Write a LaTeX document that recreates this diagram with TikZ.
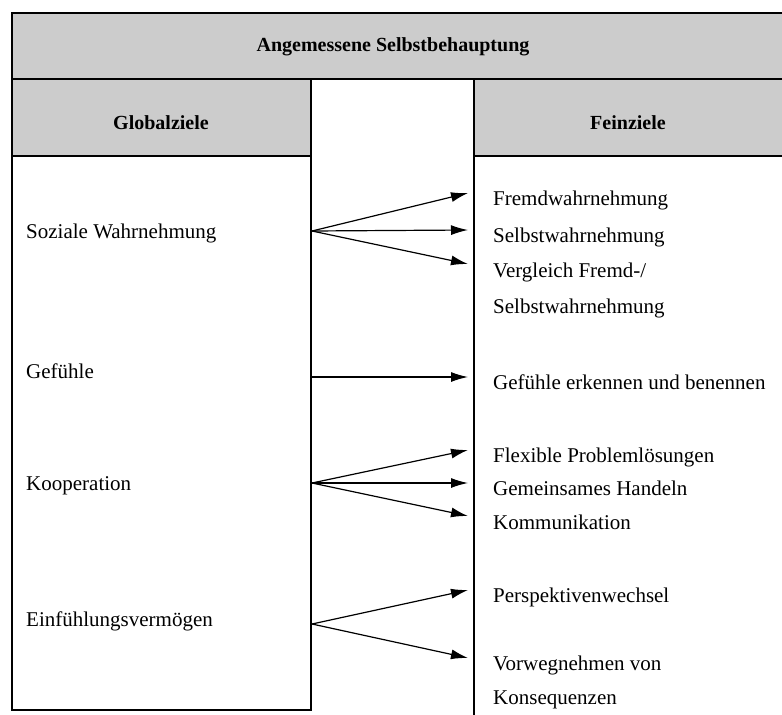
\documentclass[tikz,border=0pt]{standalone}
\usepackage{fontspec}
\setmainfont{Liberation Serif}
\usetikzlibrary{arrows.meta}

\begin{document}
\begin{tikzpicture}[x=1pt,y=-1pt,
        kopf/.style={fill=black!20},
        rand/.style={line width=1.4pt},
        ziel/.style={anchor=base west,inner sep=0pt,font=\fontsize{21}{25}\selectfont},
        titel/.style={font=\bfseries\fontsize{20}{24}\selectfont},
        pfeil/.style={-{Latex[length=17pt,width=10pt]},line width=1.2pt}]
        \useasboundingbox (0,0) rectangle (782,715);
        % Kopfzeilen
        \fill[kopf] (12,13) rectangle (782,79);
        \fill[kopf] (12,79) rectangle (311,156);
        \fill[kopf] (474,79) rectangle (782,156);
        \draw[rand] (782,13) -- (12,13) -- (12,710) -- (311,710) -- (311,79);
        \draw[rand] (12,79) -- (782,79);
        \draw[rand] (12,156) -- (311,156);
        \draw[rand] (474,79) -- (474,715);
        \draw[rand] (474,156) -- (782,156);
        \node[titel] (oben) at (393,47) {Angemessene Selbstbehauptung};
        \node[titel] (global) at (161,123) {Globalziele};
        \node[titel] (fein) at (628,123) {Feinziele};
        % Globalziele
        \node[ziel] (sozial) at (26,238) {Soziale Wahrnehmung};
        \node[ziel] (gefuehle) at (26,378) {Gefühle};
        \node[ziel] (koop) at (26,490) {Kooperation};
        \node[ziel] (einf) at (26,626) {Einfühlungsvermögen};
        \coordinate (s1) at (312,231);
        \coordinate (s2) at (312,377);
        \coordinate (s3) at (312,483);
        \coordinate (s4) at (312,624);
        % Feinziele
        \node[ziel] (fremd) at (493,205) {Fremdwahrnehmung};
        \node[ziel] (selbst) at (493,242) {Selbstwahrnehmung};
        \node[ziel] (vergl) at (493,277) {Vergleich Fremd-/};
        \node[ziel] (vergl2) at (493,313) {Selbstwahrnehmung};
        \node[ziel] (erkennen) at (493,389) {Gefühle erkennen und benennen};
        \node[ziel] (flex) at (493,462) {Flexible Problemlösungen};
        \node[ziel] (handeln) at (493,495) {Gemeinsames Handeln};
        \node[ziel] (komm) at (493,529) {Kommunikation};
        \node[ziel] (persp) at (493,602) {Perspektivenwechsel};
        \node[ziel] (vorweg) at (493,670) {Vorwegnehmen von};
        \node[ziel] (konseq) at (493,704) {Konsequenzen};
        \coordinate (spitze) at (468,0);
        % Pfeile
        \draw[pfeil] (s1) -- ([yshift=12pt]fremd.base west -| spitze);
        \draw[pfeil] (s1) -- ([yshift=12pt]selbst.base west -| spitze);
        \draw[pfeil] (s1) -- ([yshift=13pt]vergl.base west -| spitze);
        \draw[pfeil] (s2) -- ([yshift=12pt]erkennen.base west -| spitze);
        \draw[pfeil] (s3) -- ([yshift=12pt]flex.base west -| spitze);
        \draw[pfeil] (s3) -- ([yshift=12pt]handeln.base west -| spitze);
        \draw[pfeil] (s3) -- ([yshift=13pt]komm.base west -| spitze);
        \draw[pfeil] (s4) -- ([yshift=12pt]persp.base west -| spitze);
        \draw[pfeil] (s4) -- ([yshift=12pt]vorweg.base west -| spitze);
\end{tikzpicture}
\end{document}
